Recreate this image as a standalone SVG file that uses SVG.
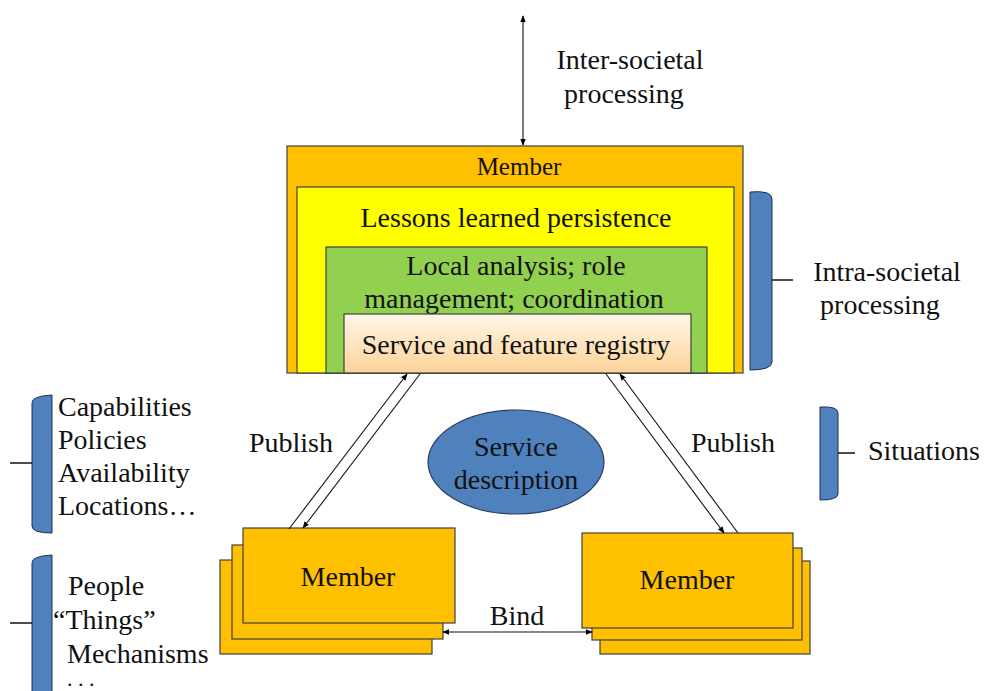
<svg xmlns="http://www.w3.org/2000/svg" width="984" height="691" viewBox="0 0 984 691">
<defs>
<linearGradient id="peach" x1="0" y1="0" x2="0" y2="1">
<stop offset="0" stop-color="#FFF6E8"/>
<stop offset="1" stop-color="#FBD398"/>
</linearGradient>
<marker id="ah" viewBox="0 0 10 10" refX="9" refY="5" markerWidth="7" markerHeight="7" orient="auto-start-reverse" markerUnits="userSpaceOnUse">
<path d="M0,1 L10,5 L0,9 Z" fill="#000"/>
</marker>
<style>
.box{stroke:#404040;stroke-width:1.2;}
.org{fill:#FFC000;}
.brace{fill:#4F81BD;stroke:#1f2f4f;stroke-width:1;}
.tick{fill:none;stroke:#111;stroke-width:1.5;}
.con{stroke:#111;stroke-width:1.1;fill:none;}
</style>
</defs>

<g id="top-member">
<rect class="box org" x="287" y="146" width="456" height="227"/>
<text x="519" y="175" font-family="Liberation Serif" font-size="25" text-anchor="middle" fill="#111">Member</text>
</g>
<g id="lessons">
<rect class="box" fill="#FFFF00" x="297" y="187" width="437" height="186"/>
<text x="516" y="227" font-family="Liberation Serif" font-size="28" text-anchor="middle" fill="#111">Lessons learned persistence</text>
</g>
<g id="local-analysis">
<rect class="box" fill="#92D050" x="326" y="247" width="381" height="126"/>
<text x="516" y="275" font-family="Liberation Serif" font-size="28" text-anchor="middle" fill="#111">Local analysis; role</text>
<text x="514" y="308" font-family="Liberation Serif" font-size="28" text-anchor="middle" fill="#111">management; coordination</text>
</g>
<g id="registry">
<rect class="box" fill="url(#peach)" x="344" y="314" width="347" height="59"/>
<text x="516" y="354" font-family="Liberation Serif" font-size="28" text-anchor="middle" fill="#111">Service and feature registry</text>
</g>

<g id="service-description">
<ellipse cx="516" cy="462" rx="88" ry="52" fill="#4F81BD" stroke="#2a3f66" stroke-width="1.2"/>
<text x="516" y="456" font-family="Liberation Serif" font-size="28" text-anchor="middle" fill="#111">Service</text>
<text x="516" y="489" font-family="Liberation Serif" font-size="28" text-anchor="middle" fill="#111">description</text>
</g>

<g id="member-left">
<rect class="box org" x="220" y="560" width="212" height="94"/>
<rect class="box org" x="232" y="545" width="211" height="94"/>
<rect class="box org" x="243" y="528" width="212" height="95"/>
<text x="348" y="586" font-family="Liberation Serif" font-size="28" text-anchor="middle" fill="#111">Member</text>
</g>
<g id="member-right">
<rect class="box org" x="600" y="561" width="210" height="93"/>
<rect class="box org" x="592" y="548" width="210" height="92"/>
<rect class="box org" x="582" y="533" width="211" height="95"/>
<text x="687" y="589" font-family="Liberation Serif" font-size="28" text-anchor="middle" fill="#111">Member</text>
</g>

<g id="braces">
<path class="brace" d="M750,192 Q772,190 772,199 L772,362 Q772,370 750,370 Z"/>
<path class="tick" d="M772,280 Q774,280 793,280"/>
<path class="brace" d="M820,407 Q838,406 838,413 L838,494 Q838,500 820,500 Z"/>
<path class="tick" d="M838,453 Q840,453 855,453"/>
<path class="brace" d="M52,395 Q32,396 32,403 L32,526 Q32,533 52,533 Z"/>
<path class="tick" d="M32,463 Q30,463 10,463"/>
<path class="brace" d="M52,555 Q32,556 32,563 L32,695 L52,695 Z"/>
<path class="tick" d="M32,623 Q30,623 10,623"/>
</g>

<g id="connectors">
<line class="con" x1="523" y1="145" x2="523" y2="16" marker-start="url(#ah)" marker-end="url(#ah)"/>
<line class="con" x1="289" y1="529" x2="407" y2="374" marker-end="url(#ah)"/>
<line class="con" x1="420" y1="374" x2="303" y2="528" marker-end="url(#ah)"/>
<line class="con" x1="606" y1="374" x2="724" y2="533" marker-end="url(#ah)"/>
<line class="con" x1="738" y1="533" x2="620" y2="374" marker-end="url(#ah)"/>
<line class="con" x1="443" y1="632" x2="592" y2="632" marker-start="url(#ah)" marker-end="url(#ah)"/>
</g>

<g id="labels" fill="#111" font-size="28">
<text x="630" y="69" font-family="Liberation Serif" text-anchor="middle">Inter-societal</text>
<text x="624" y="103" font-family="Liberation Serif" text-anchor="middle">processing</text>
<text x="887" y="281" font-family="Liberation Serif" text-anchor="middle">Intra-societal</text>
<text x="880" y="314" font-family="Liberation Serif" text-anchor="middle">processing</text>
<text x="868" y="460" font-family="Liberation Serif">Situations</text>
<text x="291" y="452" font-family="Liberation Serif" text-anchor="middle">Publish</text>
<text x="733" y="452" font-family="Liberation Serif" text-anchor="middle">Publish</text>
<text x="517" y="625" font-family="Liberation Serif" text-anchor="middle">Bind</text>
<text x="58" y="416" font-family="Liberation Serif">Capabilities</text>
<text x="58" y="449" font-family="Liberation Serif">Policies</text>
<text x="58" y="482" font-family="Liberation Serif">Availability</text>
<text x="58" y="515" font-family="Liberation Serif">Locations…</text>
<text x="68" y="595" font-family="Liberation Serif">People</text>
<text x="53" y="629" font-family="Liberation Serif">“Things”</text>
<text x="67" y="663" font-family="Liberation Serif">Mechanisms</text>
<text x="67" y="686" font-family="Liberation Serif" font-size="22">. . .</text>
</g>
</svg>
